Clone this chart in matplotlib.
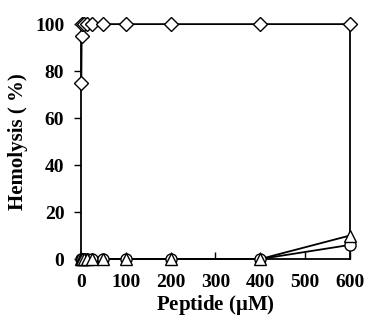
import matplotlib
matplotlib.use("Agg")
from matplotlib import pyplot as plt

# peptide concentrations (uM)
conc = [0.78, 1.56, 3.125, 6.25, 12.5, 25, 50, 100, 200, 400, 600]
hemo_diamond = [75, 95, 100, 100, 100, 100, 100, 100, 100, 100, 100]
hemo_triangle = [0, 0, 0, 0, 0, 0, 0, 0, 0, 0, 10]
hemo_circle = [0, 0, 0, 0, 0, 0, 0, 0, 0, 0, 6]

xticks = [0, 100, 200, 300, 400, 500, 600]
yticks = [0, 20, 40, 60, 80, 100]

plt.rcParams['font.family'] = ['Liberation Serif', 'DejaVu Serif']

fig = plt.figure(figsize=(3.68, 3.26), dpi=100)
ax = fig.add_axes([0.22, 0.2055, 0.731, 0.7205])

# lines first, markers on top of every line
for y in [hemo_circle, hemo_triangle, hemo_diamond]:
    ax.plot(conc, y, color='black', lw=1.3, zorder=2, clip_on=False)

mstyle = dict(ls='none', markerfacecolor='white', markeredgecolor='black',
              markeredgewidth=1.0, clip_on=False, zorder=3)
ax.plot(conc, hemo_circle, marker='o', markersize=8, **mstyle)
ax.plot(conc, hemo_triangle, marker='^', markersize=9, **mstyle)
ax.plot(conc, hemo_diamond, marker='D', markersize=7.5, **mstyle)

ax.set_xlim(0, 600)
ax.set_ylim(0, 100)
ax.set_xticks(xticks)
ax.set_yticks(yticks)
ax.spines['top'].set_visible(False)
for s in ['left', 'bottom', 'right']:
    ax.spines[s].set_linewidth(1.3)
ax.tick_params(axis='x', direction='in', length=5, width=1, pad=11)
ax.tick_params(axis='y', direction='out', length=5, width=1, pad=7)
for lab in ax.get_xticklabels() + ax.get_yticklabels():
    lab.set_fontsize(14)
    lab.set_fontweight('bold')

ax.set_xlabel(r'Peptide ($\mathregular{\mu}$M)', fontsize=15, fontweight='bold', labelpad=1)
ax.set_ylabel('Hemolysis ( %)', fontsize=15, fontweight='bold', labelpad=5)

fig.savefig('out.png', dpi=100)
